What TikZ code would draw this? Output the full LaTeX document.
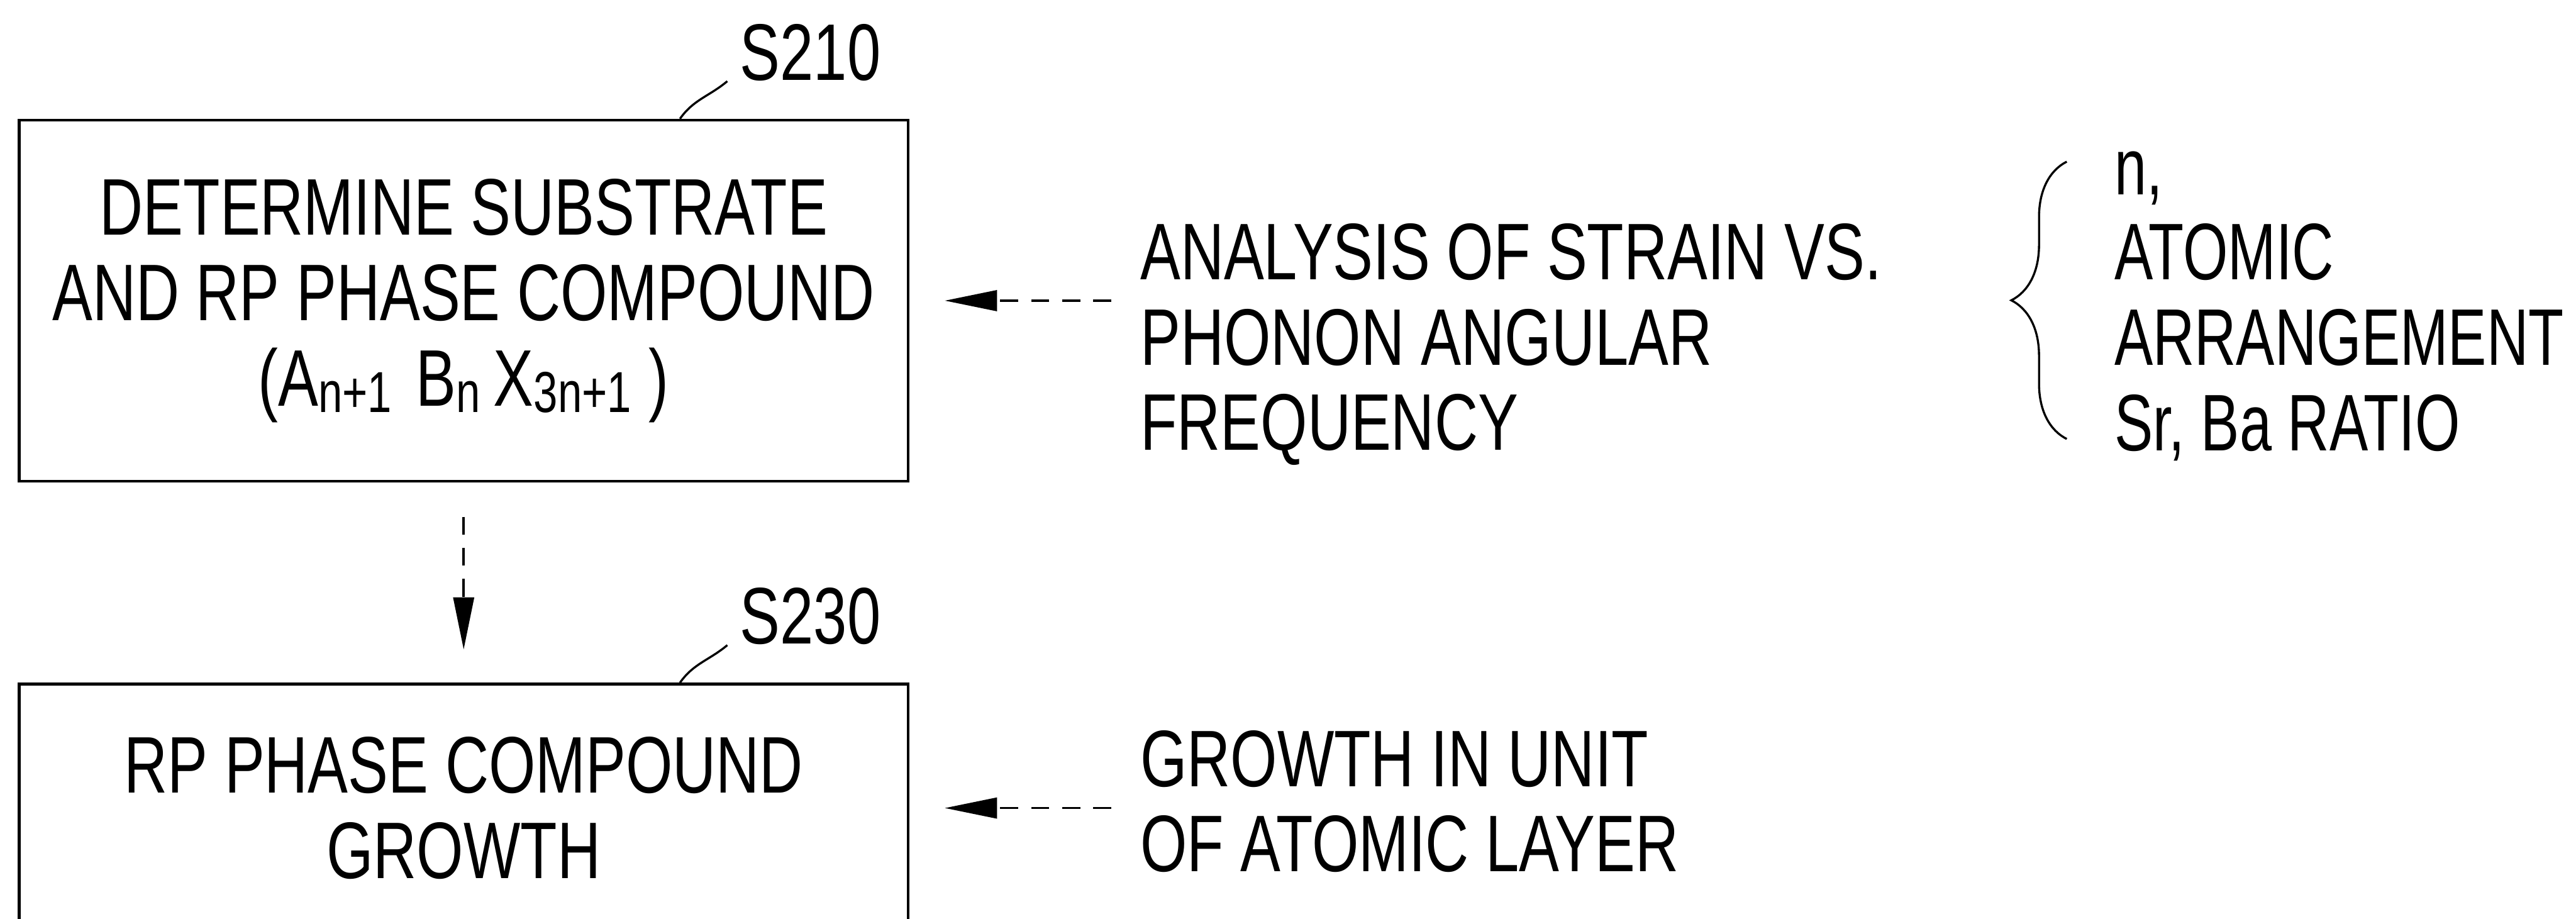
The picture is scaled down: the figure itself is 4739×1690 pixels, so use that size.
\documentclass[tikz,border=0pt]{standalone}
\usepackage{fontspec}
\setmainfont{Liberation Sans}[FakeStretch=0.75]
\newfontfamily\narrowsf{Liberation Sans}[FakeStretch=0.72]
\usetikzlibrary{positioning,arrows.meta,decorations.pathreplacing}

\newcommand{\idx}[1]{\raisebox{-0.08em}{\scalebox{0.72}{#1}}}

\begin{document}
\begin{tikzpicture}[
  x=0.1mm, y=-0.1mm,
  font=\fontsize{42pt}{44.7pt}\selectfont,
  stepbox/.style={rectangle, draw=black, line width=1.5pt, minimum width=163.5mm,
                  minimum height=#1, align=center, inner sep=0pt},
  steplbl/.style={anchor=south west, inner sep=0pt},
  note/.style={anchor=north west, align=left, inner sep=0pt},
  arrow/.style={-{Triangle[length=9.6mm, width=3.8mm]}, line width=1.2pt,
                dash pattern=on 3.3mm off 2.4mm},
  leader/.style={line width=1.1pt},
  brace/.style={decorate, decoration={brace, amplitude=10.2mm}, line width=1.1pt},
]
\useasboundingbox (0,0) rectangle (4739,1690);

% ---- step boxes ----
\node[stepbox=66.4mm] (s210) at (853,553)
      {DETERMINE SUBSTRATE\\AND RP PHASE COMPOUND\\
       (A\idx{n+1}\hspace{0.3em}B\idx{n}\,X\idx{3n+1}\hspace{0.22em})};
\node[stepbox=45.6mm] (s230) [below=36.8mm of s210]
      {RP PHASE COMPOUND\\GROWTH};

% ---- step numbers ----
\node[steplbl] (l210) at ([xshift=50.8mm, yshift=6.9mm]s210.north) {S210};
\node[steplbl] (l230) at ([xshift=50.8mm, yshift=6.9mm]s230.north) {S230};
\draw[leader] ([xshift=39.8mm]s210.north) to[out=55, in=220] ([xshift=-2.3mm]l210.south west);
\draw[leader] ([xshift=39.8mm]s230.north) to[out=55, in=220] ([xshift=-2.3mm]l230.south west);

\draw[arrow, shorten <=6.3mm, shorten >=6.1mm] (s210) -- (s230);

% ---- inputs on the right ----
\node[note] (strain) at ([xshift=42.4mm, yshift=-19.2mm]s210.north east)
      {ANALYSIS OF STRAIN VS.\\PHONON ANGULAR\\FREQUENCY};
\node[note] (layer) at ([xshift=42.4mm, yshift=-8.7mm]s230.north east)
      {GROWTH IN UNIT\\OF ATOMIC LAYER};
\draw[arrow, shorten <=5.3mm, shorten >=6.5mm] (strain.west |- s210.east) -- (s210.east);
\draw[arrow, shorten <=5.3mm, shorten >=6.5mm] (layer.west |- s230.east) -- (s230.east);

% ---- parameters ----
\node[note, font=\fontsize{42pt}{44.7pt}\narrowsf] (param)
      at ([xshift=179.2mm, yshift=13.3mm]strain.north west)
      {n,\\ATOMIC\\ARRANGEMENT\\Sr, Ba RATIO};
\draw[brace] ([xshift=-8.7mm, yshift=4.1mm]param.south west)
          -- ([xshift=-8.7mm, yshift=-2mm]param.north west);

\end{tikzpicture}
\end{document}
